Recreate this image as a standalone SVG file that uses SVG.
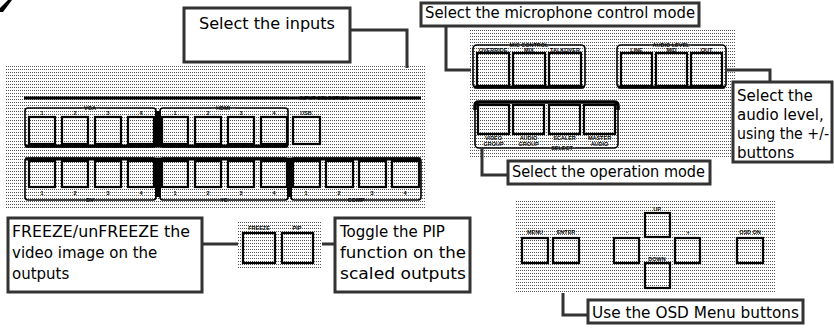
<svg xmlns="http://www.w3.org/2000/svg" width="834" height="328" viewBox="0 0 834 328">
<defs>
<pattern id="dots" patternUnits="userSpaceOnUse" width="2" height="3">
<rect x="0" y="0" width="1" height="1" fill="#555"/>
</pattern>
</defs>
<style>
.cb{fill:#fff;stroke:#333;stroke-width:3}
.cl{fill:none;stroke:#333;stroke-width:3}
.ct{font-family:"DejaVu Sans",sans-serif;font-size:15px;fill:#000}
.panel{fill:url(#dots)}
.bg{fill:url(#dots)}
.btn{fill:url(#dots);stroke:#000;stroke-width:2.2}
.grp{fill:none;stroke:#000;stroke-width:1.6}
.thk{stroke:#000;stroke-width:3}
.lbl{font-family:"Liberation Sans",Arial,sans-serif;font-size:5.5px;font-weight:bold;text-anchor:middle;fill:#000}
</style>
<rect width="834" height="328" fill="#fff"/>
<polygon points="8,0 12,0 3,12 0,12 0,8" fill="#000"/>

<g id="input-panel">
<rect class="panel" x="5" y="65" width="420" height="145"/>
<line class="thk" x1="24" y1="98" x2="421" y2="98" stroke-width="2.5"/>
<rect class="bg" x="290" y="95" width="68" height="6"/>
<text class="lbl" x="324" y="100">INPUT SELECTION</text>
<rect class="grp" x="25" y="108" width="131" height="39" rx="3"/>
<rect class="grp" x="160" y="108" width="128" height="39" rx="3"/>
<line class="thk" x1="25" y1="146" x2="288" y2="146"/>
<rect x="155" y="111" width="6" height="36" fill="#000"/>
<rect class="bg" x="81" y="106" width="18" height="5"/>
<text class="lbl" x="90" y="110">VGA</text>
<rect class="bg" x="211" y="106" width="24" height="5"/>
<text class="lbl" x="223" y="110">HDMI</text>
<text class="lbl" x="42" y="115">1</text><text class="lbl" x="75" y="115">2</text><text class="lbl" x="108" y="115">3</text><text class="lbl" x="141" y="115">4</text>
<text class="lbl" x="175" y="115">1</text><text class="lbl" x="208" y="115">2</text><text class="lbl" x="241" y="115">3</text><text class="lbl" x="274" y="115">4</text>
<text class="lbl" x="306" y="115">USB</text>
<rect class="btn" x="29" y="117" width="26" height="27"/><rect class="btn" x="62" y="117" width="26" height="27"/><rect class="btn" x="95" y="117" width="26" height="27"/><rect class="btn" x="128" y="117" width="26" height="27"/>
<rect class="btn" x="162" y="117" width="26" height="27"/><rect class="btn" x="195" y="117" width="26" height="27"/><rect class="btn" x="228" y="117" width="26" height="27"/><rect class="btn" x="261" y="117" width="26" height="27"/>
<rect class="btn" x="293" y="117" width="27" height="27"/>
<rect class="grp" x="25" y="158" width="131" height="42" rx="3"/>
<rect class="grp" x="160" y="158" width="128" height="42" rx="3"/>
<rect class="grp" x="291" y="158" width="130" height="42" rx="3"/>
<line class="thk" x1="25" y1="159" x2="421" y2="159"/>
<rect x="155" y="158" width="6" height="39" fill="#000"/>
<rect x="287" y="158" width="5" height="39" fill="#000"/>
<rect class="btn" x="29" y="161" width="26" height="26"/><rect class="btn" x="62" y="161" width="26" height="26"/><rect class="btn" x="95" y="161" width="26" height="26"/><rect class="btn" x="128" y="161" width="26" height="26"/>
<rect class="btn" x="162" y="161" width="26" height="26"/><rect class="btn" x="195" y="161" width="26" height="26"/><rect class="btn" x="228" y="161" width="26" height="26"/><rect class="btn" x="261" y="161" width="26" height="26"/>
<rect class="btn" x="293" y="161" width="27" height="26"/><rect class="btn" x="326" y="161" width="27" height="26"/><rect class="btn" x="359" y="161" width="27" height="26"/><rect class="btn" x="392" y="161" width="27" height="26"/>
<text class="lbl" x="42" y="195">1</text><text class="lbl" x="75" y="195">2</text><text class="lbl" x="108" y="195">3</text><text class="lbl" x="141" y="195">4</text>
<text class="lbl" x="175" y="195">1</text><text class="lbl" x="208" y="195">2</text><text class="lbl" x="241" y="195">3</text><text class="lbl" x="274" y="195">4</text>
<text class="lbl" x="306" y="195">1</text><text class="lbl" x="339" y="195">2</text><text class="lbl" x="372" y="195">3</text><text class="lbl" x="405" y="195">4</text>
<rect class="bg" x="83" y="198" width="14" height="5"/>
<text class="lbl" x="90" y="202">DV</text>
<rect class="bg" x="217" y="198" width="14" height="5"/>
<text class="lbl" x="224" y="202">YC</text>
<rect class="bg" x="344" y="198" width="24" height="5"/>
<text class="lbl" x="356" y="202">COMP</text>
</g>

<g id="audio-panel">
<rect class="panel" x="470" y="28" width="265" height="130"/>
<rect class="grp" x="473" y="45" width="112" height="43" rx="4" stroke-width="2.5"/>
<line class="thk" x1="474" y1="87" x2="584" y2="87"/>
<rect class="bg" x="508" y="42" width="42" height="5"/>
<text class="lbl" x="529" y="47">MIC CONTROL</text>
<text class="lbl" x="493" y="52" font-size="4.6">OVERRIDE</text>
<text class="lbl" x="529" y="52" font-size="4.6">MIX</text>
<text class="lbl" x="565" y="52" font-size="4.6">TALKOVER</text>
<rect class="btn" x="477" y="53" width="32" height="33"/><rect class="btn" x="513" y="53" width="32" height="33"/><rect class="btn" x="549" y="53" width="32" height="33"/>
<rect class="grp" x="617" y="45" width="109" height="43" rx="4" stroke-width="2.5"/>
<line class="thk" x1="618" y1="87" x2="725" y2="87"/>
<rect class="bg" x="650" y="42" width="42" height="5"/>
<text class="lbl" x="671" y="47">AUDIO LEVEL</text>
<text class="lbl" x="636.5" y="52" font-size="4.6">LINE</text>
<text class="lbl" x="671.5" y="52" font-size="4.6">MID</text>
<text class="lbl" x="706.5" y="52" font-size="4.6">OUT</text>
<rect class="btn" x="621" y="53" width="31" height="33"/><rect class="btn" x="656" y="53" width="31" height="33"/><rect class="btn" x="691" y="53" width="31" height="33"/>
<rect class="grp" x="475" y="102" width="143" height="46" rx="4"/>
<path d="M475,110 V106 Q475,102 479,102 H614 Q618,102 618,106 V110" fill="none" stroke="#000" stroke-width="3.5"/>
<rect class="btn" x="478" y="105" width="31" height="29"/><rect class="btn" x="513" y="105" width="31" height="29"/><rect class="btn" x="549" y="105" width="31" height="29"/><rect class="btn" x="584" y="105" width="31" height="29"/>
<text class="lbl" x="493.5" y="140" font-size="4.6">VIDEO</text>
<rect class="bg" x="484" y="142" width="20" height="4"/>
<text class="lbl" x="493.5" y="146" font-size="4.6">GROUP</text>
<text class="lbl" x="528.5" y="140" font-size="4.6">AUDIO</text>
<rect class="bg" x="519" y="142" width="20" height="4"/>
<text class="lbl" x="528.5" y="146" font-size="4.6">GROUP</text>
<text class="lbl" x="564.5" y="140" font-size="4.6">SCALER</text>
<text class="lbl" x="599.5" y="140" font-size="4.6">MASTER</text>
<rect class="bg" x="590" y="142" width="20" height="4"/>
<text class="lbl" x="599.5" y="146" font-size="4.6">AUDIO</text>
<rect class="bg" x="549" y="145" width="26" height="6"/>
<text class="lbl" x="562" y="150">SELECT</text>
</g>

<g id="freeze-panel">
<rect class="panel" x="237" y="220" width="85" height="48"/>
<text class="lbl" x="259" y="230">FREEZE</text>
<text class="lbl" x="297" y="230">PIP</text>
<rect class="btn" x="243" y="233" width="32" height="30"/>
<rect class="btn" x="282" y="233" width="31" height="30"/>
</g>

<g id="osd-panel">
<rect class="panel" x="516" y="200" width="259" height="93"/>
<text class="lbl" x="535" y="234">MENU</text>
<text class="lbl" x="566" y="234">ENTER</text>
<text class="lbl" x="627" y="234" font-size="7">-</text>
<text class="lbl" x="688" y="234" font-size="7">+</text>
<text class="lbl" x="657" y="211">UP</text>
<text class="lbl" x="657" y="261">DOWN</text>
<text class="lbl" x="750" y="234">OSD ON</text>
<rect class="btn" x="522" y="238" width="26" height="25"/>
<rect class="btn" x="553" y="238" width="26" height="25"/>
<rect class="btn" x="614" y="238" width="25" height="25"/>
<rect class="btn" x="645" y="213" width="25" height="24"/>
<rect class="btn" x="645" y="263" width="25" height="25"/>
<rect class="btn" x="675" y="238" width="25" height="25"/>
<rect class="btn" x="737" y="238" width="26" height="25"/>
</g>

<g id="connectors">
<polyline class="cl" points="350,30 407,30 407,68"/>
<polyline class="cl" points="446,26 446,70 471,70"/>
<polyline class="cl" points="726,70 770,70 770,83"/>
<polyline class="cl" points="482,148 482,175 508,175"/>
<line class="cl" x1="202" y1="244" x2="238" y2="244"/>
<line class="cl" x1="322" y1="244" x2="336" y2="244"/>
<polyline class="cl" points="563,293 563,315 589,315"/>
</g>

<g id="callout-inputs">
<rect class="cb" x="184" y="8" width="166" height="54"/>
<text class="ct" x="199" y="29" textLength="136" lengthAdjust="spacingAndGlyphs">Select the inputs</text>
</g>
<g id="callout-mic">
<rect class="cb" x="421" y="3" width="278" height="23"/>
<text class="ct" x="425" y="18" textLength="270" lengthAdjust="spacingAndGlyphs">Select the microphone control mode</text>
</g>
<g id="callout-audio">
<rect class="cb" x="733" y="82" width="99" height="80"/>
<text class="ct" x="737" y="101">Select the</text>
<text class="ct" x="737" y="120">audio level,</text>
<text class="ct" x="737" y="139" textLength="92" lengthAdjust="spacingAndGlyphs">using the +/-</text>
<text class="ct" x="737" y="158">buttons</text>
</g>
<g id="callout-operation">
<rect class="cb" x="508" y="161" width="202" height="23"/>
<text class="ct" x="512" y="177" textLength="193" lengthAdjust="spacingAndGlyphs">Select the operation mode</text>
</g>
<g id="callout-freeze">
<rect class="cb" x="8" y="218" width="194" height="74"/>
<text class="ct" x="12" y="237" textLength="178" lengthAdjust="spacingAndGlyphs">FREEZE/unFREEZE the</text>
<text class="ct" x="12" y="258">video image on the</text>
<text class="ct" x="12" y="279">outputs</text>
</g>
<g id="callout-pip">
<rect class="cb" x="335" y="218" width="135" height="74"/>
<text class="ct" x="340" y="237">Toggle the PIP</text>
<text class="ct" x="340" y="258" textLength="126" lengthAdjust="spacingAndGlyphs">function on the</text>
<text class="ct" x="340" y="279" textLength="126" lengthAdjust="spacingAndGlyphs">scaled outputs</text>
</g>
<g id="callout-osd">
<rect class="cb" x="588" y="300" width="215" height="23"/>
<text class="ct" x="592" y="318" textLength="207" lengthAdjust="spacingAndGlyphs">Use the OSD Menu buttons</text>
</g>
</svg>
